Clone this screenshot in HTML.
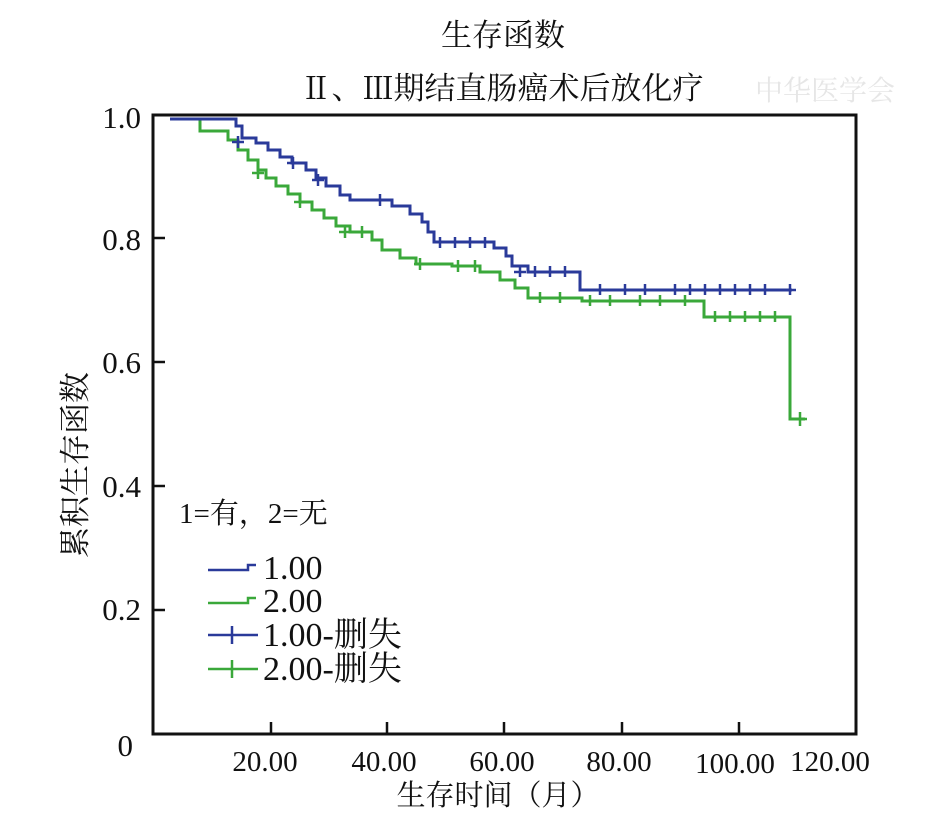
<!DOCTYPE html>
<html><head><meta charset="utf-8"><style>
body{margin:0;background:#fff}
svg text{font-family:"Liberation Serif","Noto Serif CJK SC",serif;fill:#111}
</style></head><body>
<svg width="930" height="820" xmlns="http://www.w3.org/2000/svg">
<text x="503" y="46" font-size="31" text-anchor="middle">生存函数</text>
<text x="502" y="99" font-size="31" text-anchor="middle">Ⅱ、Ⅲ期结直肠癌术后放化疗</text>
<text x="755" y="100" font-size="28" style="fill:#e6e6e6">中华医学会</text>
<rect x="153" y="115" width="703" height="619" fill="none" stroke="#111" stroke-width="3"/>
<g stroke="#111" stroke-width="2.5">
<line x1="153" y1="238" x2="165" y2="238"/><line x1="153" y1="362" x2="165" y2="362"/>
<line x1="153" y1="486" x2="165" y2="486"/><line x1="153" y1="610" x2="165" y2="610"/>
<line x1="271" y1="734" x2="271" y2="722"/><line x1="387" y1="734" x2="387" y2="722"/>
<line x1="504" y1="734" x2="504" y2="722"/><line x1="622" y1="734" x2="622" y2="722"/>
<line x1="739" y1="734" x2="739" y2="722"/>
</g>
<g font-size="31" text-anchor="end">
<text x="141" y="128">1.0</text><text x="141" y="250">0.8</text><text x="141" y="373">0.6</text>
<text x="141" y="497">0.4</text><text x="141" y="620">0.2</text><text x="133" y="756">0</text>
</g>
<g font-size="29" text-anchor="middle">
<text x="265" y="771">20.00</text><text x="384" y="771">40.00</text><text x="502" y="771">60.00</text>
<text x="619" y="771">80.00</text><text x="735" y="773">100.00</text><text x="830" y="771">120.00</text>
</g>
<text x="498" y="805" font-size="29" text-anchor="middle">生存时间（月）</text>
<text transform="translate(86,465) rotate(-90)" font-size="31" text-anchor="middle">累积生存函数</text>
<path fill="none" stroke="#3aa83a" stroke-width="3" d="M170 119 H200 V131 H228 V140 H238 V150 H248 V160 H258 V170 H266 V178 H276 V186 H288 V194 H300 V202 H312 V210 H324 V218 H336 V226 H350 V232 H372 V240 H382 V250 H400 V258 H416 V264 H452 V266 H480 V272 H500 V280 H515 V288 H528 V298 H582 V301 H704 V317 H790 V419 H805"/>
<path fill="none" stroke="#2a3a9a" stroke-width="3" d="M170 119 H236 V126 H242 V138 H256 V143 H268 V150 H280 V157 H292 V163 H306 V170 H316 V178 H326 V186 H340 V195 H350 V200 H392 V206 H410 V214 H422 V222 H428 V232 H434 V242 H494 V248 H506 V256 H512 V266 H528 V272 H580 V290 H792"/>
<g stroke="#2a3a9a" stroke-width="2.5">
<path d="M238 136v12M232 142h12 M293 157v12M287 163h12 M318 174v12M312 180h12 M380 194v12M374 200h12 M440 237v11M434 242h12 M455 237v11M449 242h12 M470 237v11M464 242h12 M485 237v11M479 242h12 M520 266v11M514 272h12 M535 266v11M529 272h12 M550 266v11M544 272h12 M565 266v11M559 272h12 M600 284v11M594 290h12 M625 284v11M619 290h12 M645 284v11M639 290h12 M675 284v11M669 290h12 M690 284v11M684 290h12 M705 284v11M699 290h12 M720 284v11M714 290h12 M735 284v11M729 290h12 M750 284v11M744 290h12 M765 284v11M759 290h12 M790 284v11M784 290h12"/>
</g>
<g stroke="#3aa83a" stroke-width="2.5">
<path d="M258 167v12M252 173h12 M300 196v12M294 202h12 M345 226v12M339 232h12 M362 226v12M356 232h12 M420 258v12M414 264h12 M458 260v12M452 266h12 M475 260v12M469 266h12 M540 292v11M534 298h12 M560 292v11M554 298h12 M590 295v11M584 301h12 M610 295v11M604 301h12 M640 295v11M634 301h12 M660 295v11M654 301h12 M685 295v11M679 301h12 M715 311v11M709 317h12 M730 311v11M724 317h12 M745 311v11M739 317h12 M760 311v11M754 317h12 M775 311v11M769 317h12 M800 412v14M793 419h14"/>
</g>
<text x="179" y="523" font-size="29">1=有，2=无</text>
<path d="M208 570 H248 V565 H256" fill="none" stroke="#2a3a9a" stroke-width="2.5"/>
<path d="M208 603 H248 V598 H256" fill="none" stroke="#3aa83a" stroke-width="2.5"/>
<path d="M208 635 H258 M232 626v18" stroke="#2a3a9a" stroke-width="2.5"/>
<path d="M208 669 H258 M232 660v18" stroke="#3aa83a" stroke-width="2.5"/>
<g font-size="34">
<text x="263" y="579">1.00</text><text x="263" y="612">2.00</text>
<text x="263" y="646">1.00-删失</text><text x="263" y="680">2.00-删失</text>
</g>
</svg>
</body></html>
